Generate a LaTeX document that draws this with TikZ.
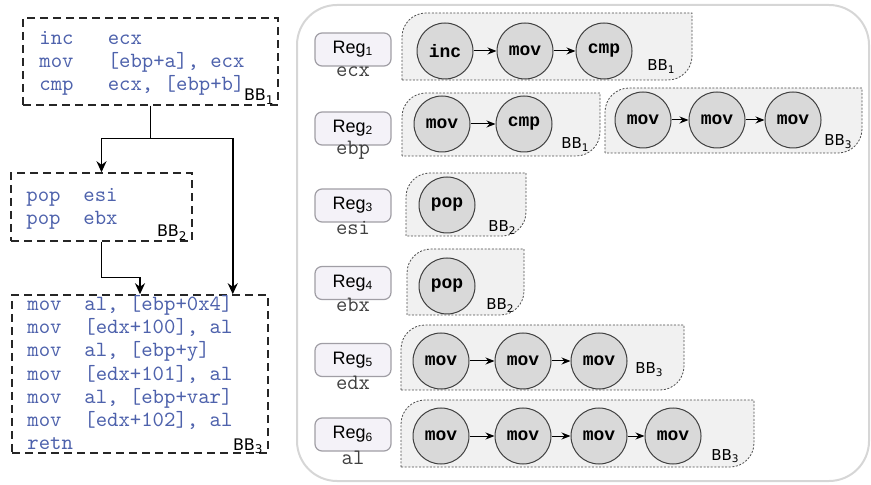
\documentclass[tikz,border=0pt]{standalone}
\usepackage{fontspec}
\setmainfont{Liberation Sans}
\setmonofont{Liberation Mono}
\newfontfamily\bbfont{DejaVu Sans}
\usetikzlibrary{arrows.meta,fit,calc}

\definecolor{codeblue}{RGB}{78,98,172}
\definecolor{opfill}{RGB}{217,217,217}
\definecolor{grpfill}{RGB}{241,241,241}
\definecolor{regfill}{RGB}{244,242,248}
\definecolor{regline}{RGB}{160,158,165}
\definecolor{panelline}{RGB}{214,214,214}

\tikzset{
  code/.style={font=\fontfamily{lmtt}\fontsize{10.85}{12}\selectfont, text=codeblue, anchor=base west, inner sep=0pt},
  bbbox/.style={draw=black!85, line width=0.75pt, dash pattern=on 4pt off 2.5pt, inner sep=0pt},
  bblabel/.style={font=\bbfont\fontsize{8}{9}\selectfont, anchor=base east, inner sep=0pt},
  bbtag/.style={bblabel, font=\bbfont\fontsize{7.5}{9}\selectfont},
  flow/.style={line width=0.75pt, -{Stealth[length=5.5pt, width=5pt]}},
  reg/.style={draw=regline, fill=regfill, line width=0.6pt, rounded corners=3.5pt,
    minimum width=38pt, minimum height=16.5pt, font=\fontsize{9}{10}\selectfont},
  regname/.style={font=\fontfamily{lmtt}\fontsize{11}{12}\selectfont, text=black!75, anchor=base, inner sep=0pt},
  op/.style={circle, draw=black!75, fill=opfill, line width=0.5pt, minimum size=28pt,
    inner sep=0pt, font=\ttfamily\bfseries\fontsize{9}{10}\selectfont},
  use/.style={line width=0.5pt, -{Stealth[length=4.5pt, width=3.5pt]}},
  grp/.style={draw=black!70, fill=grpfill, line width=0.4pt, dash pattern=on 1pt off 0.8pt},
}

% block outline for a use chain: rounded top left and bottom right only
\newcommand{\bbgroup}[4]{%
  \draw[grp] (#1,#4) -- (#1,#2+24) arc[start angle=180, end angle=270, radius=24]
    -- (#3,#2) -- (#3,#4-24) arc[start angle=0, end angle=90, radius=24] -- cycle;}

\begin{document}
\begin{tikzpicture}[x=0.5pt, y=-0.5pt]
  \useasboundingbox (0,0) rectangle (871,485);

  % control flow graph
  \node[bbbox, fit={(23,18) (278,105)}] (bb1) {};
  \node[bbbox, fit={(11,173) (192,241)}] (bb2) {};
  \node[bbbox, fit={(12,295) (268,453)}] (bb3) {};

  \node[code] (c11) at (39,45) {inc~~~ecx};
  \node[code] (c12) at (39,68) {mov~~~[ebp+a], ecx};
  \node[code] (c13) at (39,91) {cmp~~~ecx, [ebp+b]};

  \node[code] (c21) at (26,202) {pop~~esi};
  \node[code] (c22) at (26,225) {pop~~ebx};

  \node[code] (c31) at (27,311) {mov~~al, [ebp+0x4]};
  \node[code] (c32) at (27,334) {mov~~[edx+100], al};
  \node[code] (c33) at (27,357) {mov~~al, [ebp+y]};
  \node[code] (c34) at (27,380) {mov~~[edx+101], al};
  \node[code] (c35) at (27,403) {mov~~al, [ebp+var]};
  \node[code] (c36) at (27,426) {mov~~[edx+102], al};
  \node[code] (c37) at (27,449) {retn};

  \node[bblabel] (t1) at (275,101) {BB\textsubscript{1}};
  \node[bblabel] (t2) at (188,237) {BB\textsubscript{2}};
  \node[bblabel] (t3) at (264,450) {BB\textsubscript{3}};

  \draw[flow] (bb1.south) -- ++(0,33) coordinate (split) -| (bb2.north);
  \draw[flow] (split) -| ($(bb3.north east)+(-36,0)$);
  \draw[flow] (bb2.south) -- ++(0,36) -| (bb3.north);

  % register use chains
  \draw[draw=panelline, line width=1pt, rounded corners=20pt] (297,5) rectangle (869,481);

  \node[reg] (reg1) at (353,49.5) {Reg\textsubscript{1}};
  \node[reg] (reg2) at (353,128.5) {Reg\textsubscript{2}};
  \node[reg] (reg3) at (353,205.5) {Reg\textsubscript{3}};
  \node[reg] (reg4) at (353,283) {Reg\textsubscript{4}};
  \node[reg] (reg5) at (353,360) {Reg\textsubscript{5}};
  \node[reg] (reg6) at (353,434.5) {Reg\textsubscript{6}};

  \node[regname] (r1) at (353,77) {ecx};
  \node[regname] (r2) at (353,155) {ebp};
  \node[regname] (r3) at (353,235) {esi};
  \node[regname] (r4) at (353,312) {ebx};
  \node[regname] (r5) at (353,390) {edx};
  \node[regname] (r6) at (353,464) {al};

  % ecx
  \bbgroup{402}{13}{692}{80}
  \node[op] (u11) at (445,51) {inc};
  \node[op] (u12) at (525,51) {mov};
  \node[op] (u13) at (604,51) {cmp};
  \draw[use] (u11) -- (u12); \draw[use] (u12) -- (u13);
  \node[bbtag] (g1) at (676,71) {BB\textsubscript{1}};

  % ebp
  \bbgroup{402}{93}{600}{156}
  \node[op] (u21) at (442,124) {mov};
  \node[op] (u22) at (524,124) {cmp};
  \draw[use] (u21) -- (u22);
  \node[bbtag] (g2) at (590,149) {BB\textsubscript{1}};

  \bbgroup{605}{88}{862}{153}
  \node[op] (u23) at (643,120) {mov};
  \node[op] (u24) at (717,120) {mov};
  \node[op] (u25) at (793,120) {mov};
  \draw[use] (u23) -- (u24); \draw[use] (u24) -- (u25);
  \node[bbtag] (g3) at (853,146) {BB\textsubscript{3}};

  % esi, ebx
  \bbgroup{406}{173}{526}{236}
  \node[op] (u31) at (447,205) {pop};
  \node[bbtag] (g4) at (517,232) {BB\textsubscript{2}};

  \bbgroup{407}{249}{524}{315}
  \node[op] (u41) at (447,286) {pop};
  \node[bbtag] (g5) at (515,310) {BB\textsubscript{2}};

  % edx
  \bbgroup{401}{325}{684}{390}
  \node[op] (u51) at (441,361) {mov};
  \node[op] (u52) at (523,361) {mov};
  \node[op] (u53) at (599,361) {mov};
  \draw[use] (u51) -- (u52); \draw[use] (u52) -- (u53);
  \node[bbtag] (g6) at (664,374) {BB\textsubscript{3}};

  % al
  \bbgroup{401}{400}{754}{467}
  \node[op] (u61) at (441,436) {mov};
  \node[op] (u62) at (523,436) {mov};
  \node[op] (u63) at (599,436) {mov};
  \node[op] (u64) at (673,436) {mov};
  \draw[use] (u61) -- (u62); \draw[use] (u62) -- (u63); \draw[use] (u63) -- (u64);
  \node[bbtag] (g7) at (740,460) {BB\textsubscript{3}};
\end{tikzpicture}
\end{document}
